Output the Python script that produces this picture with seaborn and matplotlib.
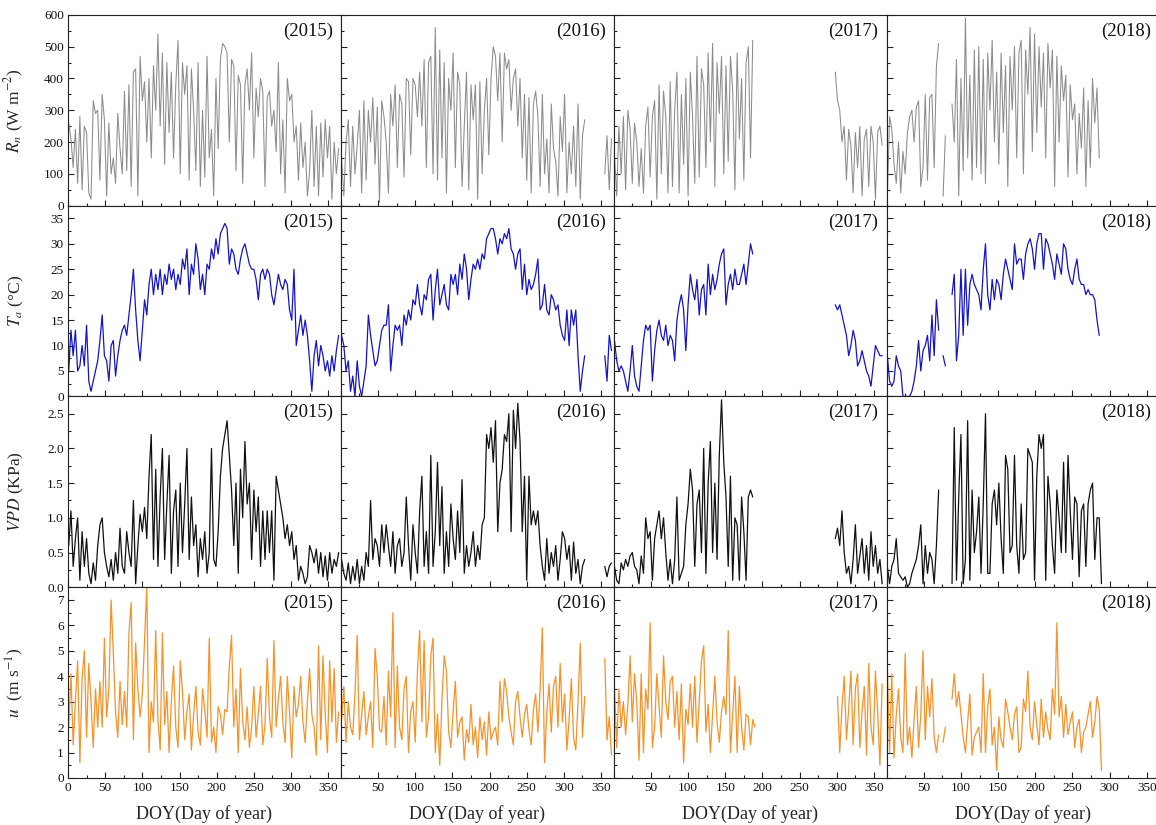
import numpy as np
import pandas as pd
import matplotlib
matplotlib.use("Agg")
import matplotlib.pyplot as plt
from matplotlib.ticker import MultipleLocator, FuncFormatter
import seaborn as sns

N = None
years = ["2015", "2016", "2017", "2018"]
doy = list(range(1, 366, 3))  # sampled day of year

# ---------------- Rn (W m-2) ----------------
rn_2015 = [260,210,120,240,70,280,50,250,230,40,
           20,330,290,300,80,350,270,30,260,100,
           150,70,290,180,100,360,110,380,60,420,
           430,30,470,330,390,200,400,150,440,300,
           540,250,480,130,450,230,420,150,380,520,
           100,450,350,440,80,430,300,110,450,60,
           300,90,470,150,240,30,400,180,460,510,
           500,480,200,460,440,110,410,380,70,380,
           430,300,480,150,370,280,400,360,60,340,
           360,250,300,170,450,100,270,40,400,330,
           350,200,250,80,260,120,200,30,110,300,
           60,250,30,260,90,270,150,250,20,200,
           100,180]
rn_2016 = [150,30,200,270,60,250,100,190,300,40,
           330,80,300,200,340,130,310,10,330,280,
           200,40,350,250,380,120,350,320,90,400,
           390,160,400,380,280,420,250,460,120,450,
           470,100,560,80,490,150,450,40,400,300,
           480,120,420,380,60,250,420,50,380,270,
           380,20,390,100,300,400,160,400,500,470,
           330,480,200,480,430,460,300,400,430,250,
           400,150,350,80,340,40,320,360,280,60,
           350,100,210,40,320,180,140,30,280,170,
           350,40,200,100,250,60,320,20,220,270,
           N,N,N,N,N,N,N,N,100,220,
           50,210]
rn_2017 = [160,30,250,100,280,50,300,240,70,260,
           200,60,180,40,250,310,90,280,330,20,
           380,100,360,280,40,390,60,300,420,40,
           350,130,400,30,420,280,70,470,90,430,
           380,120,480,200,510,60,450,290,470,100,
           440,140,470,360,50,480,210,400,80,450,
           500,150,520,N,N,N,N,N,N,N,
           N,N,N,N,N,N,N,N,N,N,
           N,N,N,N,N,N,N,N,N,N,
           N,N,N,N,N,N,N,N,N,420,
           330,300,200,250,80,240,190,40,230,120,
           250,30,210,240,60,250,200,20,230,250,
           190,N]
rn_2018 = [20,280,240,130,70,200,40,170,100,230,
           280,300,200,310,330,60,120,350,80,340,
           350,120,440,510,N,30,220,N,N,320,
           200,460,30,400,110,590,150,410,80,490,
           120,500,100,460,70,480,300,520,200,420,
           130,480,230,440,60,470,300,500,150,480,
           520,100,490,350,560,170,540,230,500,310,
           480,150,510,370,490,60,470,200,440,330,
           410,90,380,270,320,100,290,180,370,60,
           330,120,400,260,370,150,N,N,N,N,
           N,N,N,N,N,N,N,N,N,N,
           N,N,N,N,N,N,N,N,N,N,
           N,N]

# ---------------- Ta (deg C) ----------------
ta_2015 = [5,13,8,13,5,6,10,6,14,3,
           1,3,5,7,11,16,8,7,3,10,
           11,4,8,11,13,14,12,16,20,25,
           17,11,7,13,19,16,22,25,20,24,
           21,25,20,24,22,26,23,25,21,24,
           22,27,25,29,20,26,24,30,27,21,
           24,20,26,25,29,27,31,28,32,33,
           34,33,26,29,28,25,24,27,29,30,
           28,26,25,25,23,19,24,25,23,25,
           24,20,18,21,24,22,21,23,22,17,
           15,25,10,13,16,12,15,12,7,1,
           8,11,6,10,8,5,7,4,8,5,
           9,12]
ta_2016 = [12,10,5,7,1,4,0,7,2,0,
           3,6,16,12,9,6,7,10,13,14,
           14,18,5,10,14,13,14,10,16,14,
           17,15,19,18,22,18,16,20,19,23,
           24,15,21,25,18,20,22,18,17,24,
           22,24,20,26,23,28,25,19,23,26,
           25,27,25,28,27,31,32,33,33,31,
           28,31,30,32,31,33,29,28,25,28,
           29,21,26,20,23,21,22,24,27,17,
           18,22,17,16,20,19,17,18,14,12,
           11,17,10,17,14,17,8,1,5,8,
           N,N,N,N,N,N,N,N,8,3,
           12,9]
ta_2017 = [11,7,5,6,5,3,1,5,10,4,
           2,1,6,11,14,13,14,3,9,13,
           15,12,11,14,10,12,11,7,15,18,
           20,17,9,18,24,21,19,23,16,21,
           22,16,26,20,24,21,23,26,28,29,
           18,22,24,21,25,22,22,24,26,22,
           26,30,28,N,N,N,N,N,N,N,
           N,N,N,N,N,N,N,N,N,N,
           N,N,N,N,N,N,N,N,N,N,
           N,N,N,N,N,N,N,N,N,18,
           17,18,16,14,12,8,10,13,11,6,
           7,9,7,5,4,2,6,10,9,8,
           8,N]
ta_2018 = [8,3,2,3,8,6,5,0,0,0,
           0,1,3,6,11,5,9,10,12,7,
           16,8,19,13,N,8,6,N,N,20,
           24,7,12,25,12,25,14,22,24,22,
           21,20,17,25,30,20,17,23,19,23,
           22,19,24,27,25,23,21,30,26,27,
           27,23,28,30,31,29,25,30,32,32,
           25,31,30,28,26,23,28,26,24,30,
           29,25,23,22,25,27,23,22,22,20,
           21,20,20,19,15,12,N,N,N,N,
           N,N,N,N,N,N,N,N,N,N,
           N,N,N,N,N,N,N,N,N,N,
           N,N]

# ---------------- VPD (kPa) ----------------
vpd_2015 = [0.6,1.1,0.3,0.7,1.0,0.1,0.8,0.3,0.7,0.2,
            0.05,0.35,0.1,0.6,0.9,1.0,0.5,0.3,0.15,0.4,
            0.1,0.5,0.2,0.85,0.3,0.2,0.8,0.5,0.3,1.25,
            0.05,0.6,1.05,0.8,1.15,0.7,1.6,2.2,0.4,1.7,
            0.3,1.3,2.0,0.4,1.2,1.9,0.2,1.1,1.4,0.3,
            1.5,0.5,1.2,2.0,0.4,1.3,0.6,0.9,0.15,0.7,
            0.4,0.8,0.2,0.5,2.0,0.4,0.3,0.8,1.6,2.0,
            2.2,2.4,1.9,1.4,0.6,1.5,0.2,1.7,1.0,2.1,
            1.2,1.5,0.4,1.4,0.8,1.3,0.3,1.1,0.4,1.1,
            0.5,1.1,0.1,1.6,1.4,1.2,1.0,0.7,0.9,0.6,
            0.8,0.4,0.6,0.1,0.3,0.2,0.05,0.15,0.6,0.5,
            0.35,0.55,0.2,0.5,0.15,0.45,0.1,0.5,0.2,0.4,
            0.3,0.5]
vpd_2016 = [0.4,0.2,0.1,0.35,0.05,0.3,0.1,0.4,0.05,0.3,
            0.1,0.5,0.3,1.25,0.4,0.7,0.6,0.3,0.9,0.5,
            0.9,0.6,0.3,0.8,0.2,0.6,0.7,0.3,0.5,1.3,
            0.6,0.1,0.9,0.5,0.2,1.1,1.6,0.3,0.8,0.2,
            1.9,0.3,0.8,1.8,0.6,1.45,0.2,0.8,0.3,1.2,
            0.7,0.4,1.1,0.5,1.55,0.2,0.6,0.3,0.5,0.8,
            0.3,0.6,0.4,0.9,1.0,2.2,2.0,2.3,1.8,2.4,
            0.8,1.5,1.7,2.2,2.1,2.5,0.8,2.55,2.0,2.65,
            2.1,0.8,1.6,0.1,1.6,0.9,1.1,0.9,1.1,0.6,
            0.3,0.1,0.7,0.2,0.5,0.3,0.6,0.1,0.4,0.8,
            0.7,0.4,0.6,0.1,0.65,0.2,0.4,0.05,0.3,0.4,
            N,N,N,N,N,N,N,N,0.3,0.15,
            0.3,0.35]
vpd_2017 = [0.3,0.1,0.05,0.35,0.25,0.4,0.3,0.45,0.5,0.3,
            0.25,0.05,0.45,0.2,1.0,0.7,0.8,0.1,0.7,0.9,
            1.1,0.7,1.0,0.5,0.1,0.4,0.05,0.4,1.3,0.1,
            0.2,0.3,0.9,1.2,1.7,1.4,0.3,1.2,1.4,0.5,
            2.0,0.2,1.5,2.1,0.5,1.5,0.4,1.9,2.7,1.8,
            1.3,0.3,1.6,0.1,1.0,0.9,0.1,1.3,0.8,0.1,
            1.3,1.4,1.3,N,N,N,N,N,N,N,
            N,N,N,N,N,N,N,N,N,N,
            N,N,N,N,N,N,N,N,N,N,
            N,N,N,N,N,N,N,N,N,0.7,
            0.85,0.6,1.1,0.5,0.2,0.3,0.05,0.4,0.9,0.2,
            0.45,0.7,0.2,0.6,0.1,0.8,0.3,0.6,0.2,0.4,
            0.05,N]
vpd_2018 = [0.3,0.05,0.3,0.4,0.7,0.2,0.15,0.1,0.15,0.0,
            0.05,0.2,0.3,0.4,0.6,0.9,0.05,0.6,0.2,0.5,
            0.4,0.05,0.6,1.4,N,N,N,N,N,0.05,
            2.3,0.1,1.3,2.2,0.05,0.4,2.4,0.1,1.4,0.5,
            0.8,1.3,0.2,1.2,2.5,0.2,0.2,1.2,1.4,0.9,
            1.5,0.7,0.2,1.9,1.7,0.5,0.6,1.9,0.6,0.2,
            1.2,0.4,0.5,2.0,1.9,1.8,0.1,1.6,2.2,2.0,
            2.2,0.1,1.6,1.2,0.6,0.2,1.4,1.0,0.5,1.8,
            0.5,1.9,1.1,0.4,1.3,1.2,0.15,1.1,1.2,0.3,
            1.2,1.4,1.5,0.4,1.0,1.0,0.05,N,N,N,
            N,N,N,N,N,N,N,N,N,N,
            N,N,N,N,N,N,N,N,N,N,
            N,N]

# ---------------- u (m s-1) ----------------
u_2015 = [2.0,4.1,1.3,3.0,4.6,0.6,3.9,5.0,1.6,4.5,
          3.0,1.2,3.5,2.0,3.8,2.0,5.5,2.4,3.5,7.0,
          4.9,2.6,1.6,3.8,2.1,3.4,2.0,5.7,6.9,1.5,
          5.3,3.5,2.4,3.3,5.4,7.5,1.0,3.0,2.2,5.8,
          2.3,1.1,5.7,2.1,3.4,1.0,3.0,4.4,2.0,1.2,
          4.6,3.4,1.5,2.6,3.3,1.1,2.5,3.6,1.8,1.3,
          3.5,2.7,1.6,5.5,1.4,2.0,1.0,2.8,2.5,1.7,
          2.7,2.6,4.4,5.6,2.0,3.5,1.0,4.3,2.2,1.5,
          2.8,1.2,2.0,3.6,1.6,2.5,3.6,1.3,2.1,4.7,
          2.4,1.6,5.4,2.0,3.1,4.0,2.2,1.4,4.0,2.6,
          0.8,3.6,2.4,2.9,4.0,2.2,1.4,3.0,4.3,2.5,
          2.0,0.9,5.2,1.5,4.8,2.5,1.0,4.6,2.2,4.3,
          1.4,2.6]
u_2016 = [2.3,3.6,1.4,3.0,2.0,1.7,3.3,5.6,1.5,2.5,
          3.4,1.7,2.4,3.0,1.2,5.1,4.0,1.9,1.8,3.2,
          1.3,4.2,2.4,6.5,1.2,4.4,2.0,1.5,3.5,4.0,
          1.0,2.6,3.0,1.4,4.2,5.8,2.2,5.4,1.6,2.4,
          4.8,5.5,1.0,2.5,0.5,3.1,4.8,4.2,1.8,1.2,
          2.6,3.8,1.6,2.2,2.4,0.7,1.9,1.4,2.9,1.3,
          2.0,0.8,2.4,1.5,2.2,0.9,2.6,1.5,1.8,2.0,
          1.3,3.8,2.2,3.9,3.4,2.4,1.8,1.3,3.0,3.4,
          2.4,1.6,2.5,2.9,1.9,1.3,2.7,3.3,1.8,3.5,
          5.9,0.6,2.6,3.7,1.8,3.6,4.0,2.0,4.5,2.2,
          3.3,1.1,2.3,3.9,1.6,1.1,3.0,5.3,1.6,3.2,
          N,N,N,N,N,N,N,N,4.7,1.5,
          2.4,0.9]
u_2017 = [3.6,1.2,3.5,2.0,3.0,1.7,2.9,4.8,2.2,4.1,
          3.0,0.7,4.1,1.0,3.5,2.7,6.1,1.2,2.0,4.1,
          2.8,1.6,4.8,3.0,2.3,3.8,4.0,2.0,3.4,1.5,
          3.7,0.6,2.7,2.1,3.7,2.0,4.0,1.4,3.0,4.6,
          5.2,1.8,2.9,1.0,2.5,4.0,2.2,1.4,2.6,3.2,
          2.5,5.8,1.0,2.5,4.0,1.0,3.6,2.0,1.1,2.5,
          2.4,1.3,2.3,2.0,N,N,N,N,N,N,
          N,N,N,N,N,N,N,N,N,N,
          N,N,N,N,N,N,N,N,N,N,
          N,N,N,N,N,N,N,N,N,N,
          3.2,1.0,2.8,4.0,1.5,2.7,4.2,1.3,3.5,4.1,
          1.2,2.6,3.6,0.9,4.5,2.0,1.3,4.2,2.6,0.5,
          3.7,N]
u_2018 = [4.5,1.0,4.1,0.8,2.5,3.5,1.6,1.0,4.9,1.3,
          2.0,0.8,2.3,3.6,1.2,2.5,5.0,1.5,3.6,2.4,
          3.9,1.6,1.0,1.7,N,1.4,2.0,N,N,3.1,
          4.1,2.8,3.4,2.5,1.6,1.0,2.2,3.3,0.9,1.6,
          1.8,2.0,1.0,4.1,1.0,2.8,3.5,1.3,2.0,0.3,
          2.4,1.5,1.2,3.1,2.6,2.0,1.5,2.5,2.8,1.0,
          1.2,3.1,2.6,4.2,2.0,1.5,3.0,2.1,1.3,3.1,
          1.6,2.6,1.9,1.5,3.5,2.5,6.1,2.4,3.2,1.6,
          2.9,1.7,2.2,2.6,1.2,2.0,2.3,1.0,1.8,2.0,
          2.5,3.0,1.6,2.2,3.2,2.7,0.3,N,N,N,
          N,N,N,N,N,N,N,N,N,N,
          N,N,N,N,N,N,N,N,N,N,
          N,N]

variables = [
    ("rn", [rn_2015, rn_2016, rn_2017, rn_2018], r"$R_n$ (W m$^{-2}$)", "#8c8c8c", 0.75,
     (0, 600), 100, 50, lambda v, p: f"{v:.0f}"),
    ("ta", [ta_2015, ta_2016, ta_2017, ta_2018], r"$T_a$ (°C)", "#1414c4", 0.9,
     (0, 37.5), 5, 2.5, lambda v, p: f"{v:.0f}"),
    ("vpd", [vpd_2015, vpd_2016, vpd_2017, vpd_2018], r"$VPD$ (KPa)", "#111111", 0.9,
     (0, 2.75), 0.5, 0.25, lambda v, p: f"{v:.1f}"),
    ("u", [u_2015, u_2016, u_2017, u_2018], r"$u$  (m s$^{-1}$)", "#f5922a", 0.9,
     (0, 7.5), 1, 0.5, lambda v, p: f"{v:.0f}"),
]

sns.set_theme(style="ticks")
plt.rcParams["font.family"] = ["Liberation Serif", "DejaVu Serif"]
plt.rcParams["mathtext.fontset"] = "stix"
plt.rcParams["axes.linewidth"] = 0.8

fig, axes = plt.subplots(4, 4, figsize=(11.56, 8.25), dpi=100, sharex=False)
fig.subplots_adjust(left=0.0588, right=1.003, top=0.982, bottom=0.057, wspace=0, hspace=0)

for r, (name, series, ylabel, color, lw, ylim, major, minor, fmt) in enumerate(variables):
    for c, yr in enumerate(years):
        ax = axes[r, c]
        vals = np.array([np.nan if v is None else v for v in series[c]], dtype=float)
        df = pd.DataFrame({"doy": doy, "value": vals})
        df["seg"] = df["value"].isna().cumsum()
        df = df.dropna()
        sns.lineplot(data=df, x="doy", y="value", units="seg", estimator=None,
                     color=color, lw=lw, ax=ax, legend=False)
        ax.set_xlim(0, 367)
        ax.set_ylim(*ylim)
        ax.xaxis.set_major_locator(MultipleLocator(50))
        ax.xaxis.set_minor_locator(MultipleLocator(25))
        ax.yaxis.set_major_locator(MultipleLocator(major))
        ax.yaxis.set_minor_locator(MultipleLocator(minor))
        ax.tick_params(which="both", direction="in", top=False, right=False,
                       width=0.8, labelsize=9.5, pad=3, colors="#222222",
                       labelcolor="#111111")
        ax.tick_params(which="major", length=4)
        ax.tick_params(which="minor", length=2)
        for sp in ax.spines.values():
            sp.set_color("#222222")
            sp.set_linewidth(0.8)
        ax.set_xlabel("")
        ax.set_ylabel("")
        if c == 0:
            ax.yaxis.set_major_formatter(FuncFormatter(fmt))
            ax.set_ylabel(ylabel, fontsize=12.5)
            ax.yaxis.set_label_coords(-0.155, 0.5)
        else:
            ax.tick_params(axis="y", labelleft=False)
        if r == 3:
            if c == 0:
                ax.xaxis.set_major_formatter(FuncFormatter(lambda v, p: f"{v:.0f}"))
            else:
                ax.xaxis.set_major_formatter(
                    FuncFormatter(lambda v, p: "" if v == 0 else f"{v:.0f}"))
            ax.set_xlabel("DOY(Day of year)", fontsize=13, labelpad=8)
        else:
            ax.tick_params(axis="x", labelbottom=False)
        ax.text(0.97, 0.915, f"({yr})", transform=ax.transAxes, ha="right",
                va="center", fontsize=13.5, color="#111111")

fig.savefig("out.png", dpi=100)
